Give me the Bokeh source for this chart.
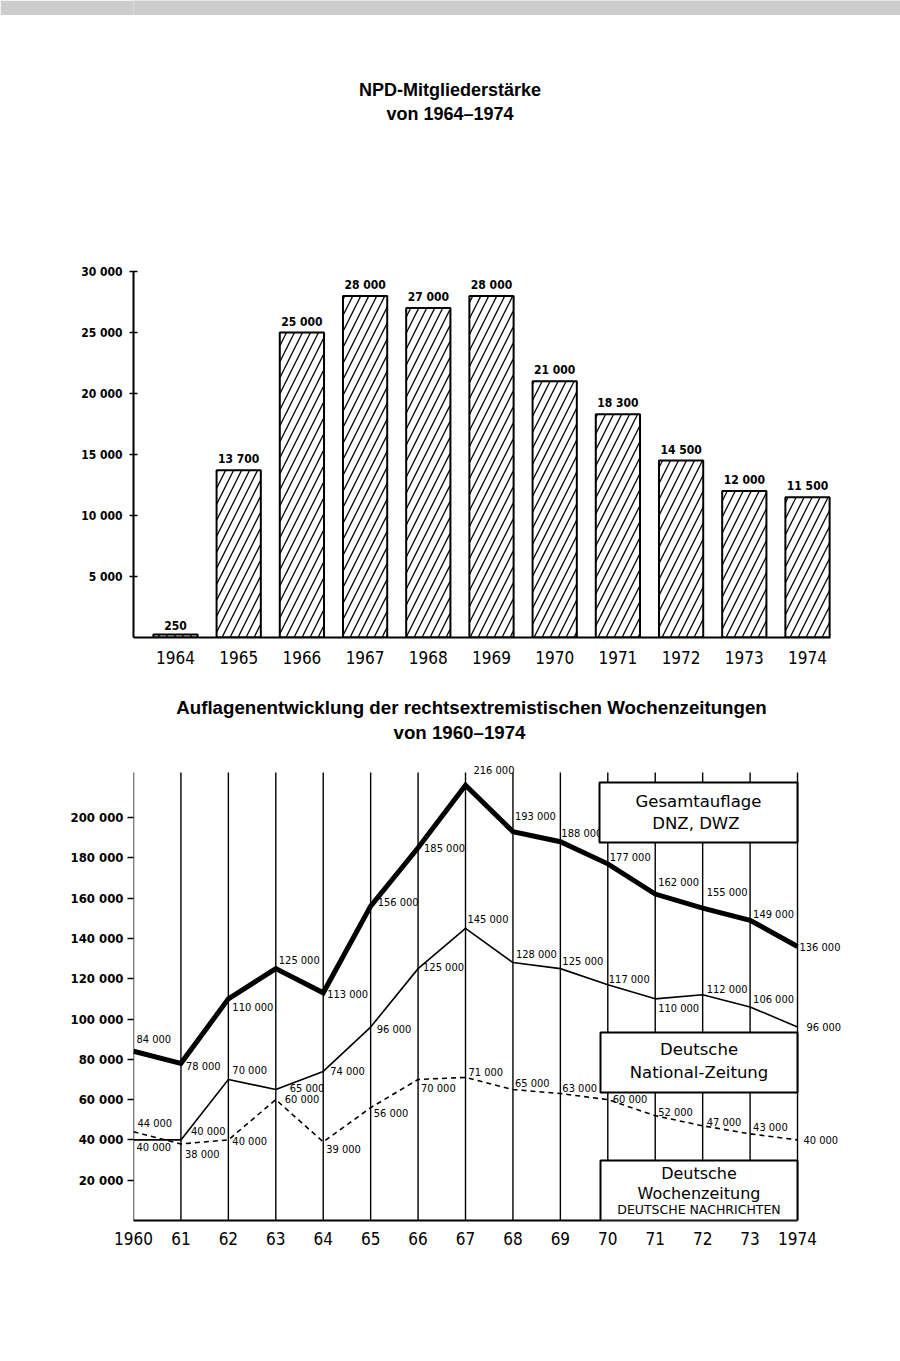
from bokeh.plotting import figure
from bokeh.models import Range1d, FixedTicker, Label, BoxAnnotation, ColumnDataSource
from bokeh.layouts import column
from bokeh.embed import file_html
from bokeh.resources import INLINE
from bokeh.core.properties import value

# ---------------- data ----------------
npd_years = [1964, 1965, 1966, 1967, 1968, 1969, 1970, 1971, 1972, 1973, 1974]
npd_members = [250, 13700, 25000, 28000, 27000, 28000, 21000, 18300, 14500, 12000, 11500]
npd_year_labels = ["1964", "1965", "1966", "1967", "1968", "1969", "1970", "1971", "1972", "1973", "1974"]
npd_tick_values = [5000, 10000, 15000, 20000, 25000, 30000]
npd_tick_labels = ["5 000", "10 000", "15 000", "20 000", "25 000", "30 000"]

paper_years = [1960, 1961, 1962, 1963, 1964, 1965, 1966, 1967, 1968, 1969, 1970, 1971, 1972, 1973, 1974]
paper_year_labels = ["1960", "61", "62", "63", "64", "65", "66", "67", "68", "69", "70", "71", "72", "73", "1974"]
gesamt = [84000, 78000, 110000, 125000, 113000, 156000, 185000, 216000, 193000, 188000, 177000, 162000, 155000, 149000, 136000]
dnz = [40000, 40000, 70000, 65000, 74000, 96000, 125000, 145000, 128000, 125000, 117000, 110000, 112000, 106000, 96000]
dwz = [44000, 38000, 40000, 60000, 39000, 56000, 70000, 71000, 65000, 63000, 60000, 52000, 47000, 43000, 40000]
paper_tick_values = [20000, 40000, 60000, 80000, 100000, 120000, 140000, 160000, 180000, 200000]
paper_tick_labels = ["20 000", "40 000", "60 000", "80 000", "100 000", "120 000", "140 000", "160 000", "180 000", "200 000"]

# label offsets (pixels) for value labels
gesamt_dx = [3, 5, 4, 3, 4, 7, 6, 8, 2, 1, 2, 3, 4, 3, 2]
gesamt_dy = [-12, 3, 9, -8, 2, -4, 1, -15, -15, -8, -6, -12, -16, -6, 1]
dnz_dx = [3, 10, 4, 14, 7, 6, 5, 2, 3, 2, 1, 3, 4, 3, 9]
dnz_dy = [8, -8, -9, -1, 0, 2, -1, -9, -8, -7, -5, 10, -5, -7, 0]
dwz_dx = [4, 4, 4, 9, 3, 3, 3, 3, 2, 2, 5, 3, 4, 3, 6]
dwz_dy = [-8, 11, 2, 0, 8, 6, 9, -5, -6, -5, 0, -3, -3, -6, 1]


def fmt(v):
    return f"{v:,}".replace(",", " ")


NUM_FONT = "DejaVu Sans Condensed, DejaVu Sans"
YEAR_FONT = "DejaVu Sans Condensed, DejaVu Sans"
BOX_FONT = "DejaVu Sans"
TITLE_FONT = "Liberation Sans"
W = 892
LEFT = 133                   # page x of the value axes
STRIP = 15                   # scanned page edge at the top

# ---------------- scan edge strip ----------------
p0 = figure(width=900, height=STRIP, output_backend="svg", toolbar_location=None,
            title=None, min_border=0, x_axis_type=None, y_axis_type=None)
p0.outline_line_color = None
p0.background_fill_color = "#cdcdcd"
p0.border_fill_color = "#cdcdcd"
p0.xgrid.visible = False
p0.ygrid.visible = False

# ---------------- top chart ----------------
H1 = 690 - STRIP
BASE1 = 637                  # page y of zero line
B1_BOTTOM = H1 + STRIP - BASE1
PX1 = 61.0 / 5000.0          # px per member
YEAR_PX1 = 63.2              # px per year
FRAME1_H = H1 - B1_BOTTOM
FRAME1_W = W - LEFT
X1_START = 1964 - (175 - LEFT) / YEAR_PX1
X1_END = X1_START + FRAME1_W / YEAR_PX1
Y1_END = FRAME1_H / PX1


def x1(px):
    return X1_START + (px - LEFT) / YEAR_PX1


def y1(py):
    return (BASE1 - py) / PX1


p1 = figure(width=W, height=H1, output_backend="svg", toolbar_location=None,
            x_range=Range1d(X1_START, X1_END), y_range=Range1d(0, Y1_END),
            min_border_left=LEFT, min_border_right=0, min_border_top=0,
            min_border_bottom=B1_BOTTOM, title=None)
p1.outline_line_color = None
p1.xgrid.visible = False
p1.ygrid.visible = False
p1.background_fill_color = "white"
p1.border_fill_color = "white"

src1 = ColumnDataSource(dict(x=npd_years, top=npd_members, lab=[fmt(v) for v in npd_members]))
p1.vbar(x="x", top="top", width=0.7, source=src1, fill_color="white",
        line_color="black", line_width=2, hatch_pattern="/", hatch_color="black",
        hatch_scale=16, hatch_weight=1.3)
p1.text(x="x", y="top", text="lab", source=src1, text_align="center",
        text_baseline="bottom", y_offset=-4, text_font=value(NUM_FONT),
        text_font_style="bold", text_font_size="12px", text_color="black")

ya = p1.yaxis[0]
ya.ticker = FixedTicker(ticks=npd_tick_values)
ya.major_label_overrides = {v: s for v, s in zip(npd_tick_values, npd_tick_labels)}
ya.bounds = (0, 30000)
ya.axis_line_width = 2
ya.major_tick_in = 4
ya.major_tick_out = 4
ya.major_tick_line_width = 1.5
ya.minor_tick_line_color = None
ya.major_label_standoff = 7
ya.major_label_text_font = NUM_FONT
ya.major_label_text_font_style = "bold"
ya.major_label_text_font_size = "12px"
ya.major_label_text_color = "black"

xa = p1.xaxis[0]
xa.ticker = FixedTicker(ticks=npd_years)
xa.major_label_overrides = {v: s for v, s in zip(npd_years, npd_year_labels)}
xa.bounds = (X1_START, 1974.36)
xa.axis_line_width = 2
xa.major_tick_line_color = None
xa.minor_tick_line_color = None
xa.major_label_standoff = 7
xa.major_label_text_font = YEAR_FONT
xa.major_label_text_font_size = "17px"
xa.major_label_text_color = "black"

for txt, py in [("NPD-Mitgliederstärke", 89), ("von 1964–1974", 113)]:
    p1.add_layout(Label(x=x1(449.5), y=y1(py), text=txt, text_align="center",
                        text_baseline="middle", text_font=TITLE_FONT,
                        text_font_style="bold", text_font_size="18px",
                        text_color="black"))

# ---------------- bottom chart ----------------
H2 = 663
B2_BOTTOM = 133
PX2 = 40.3 / 20000.0
YEAR_PX2 = 47.43
FRAME2_H = H2 - B2_BOTTOM
FRAME2_W = W - LEFT
X2_START = 1960
X2_END = X2_START + FRAME2_W / YEAR_PX2
Y2_END = FRAME2_H / PX2
TOP2 = 690
BASE2 = TOP2 + FRAME2_H


def x2(px):
    return X2_START + (px - LEFT) / YEAR_PX2


def y2(py):
    return (BASE2 - py) / PX2


p2 = figure(width=W, height=H2, output_backend="svg", toolbar_location=None,
            x_range=Range1d(X2_START, X2_END), y_range=Range1d(0, Y2_END),
            min_border_left=LEFT, min_border_right=0, min_border_top=0,
            min_border_bottom=B2_BOTTOM, title=None)
p2.outline_line_color = None
p2.xgrid.visible = False
p2.ygrid.visible = False
p2.background_fill_color = "white"
p2.border_fill_color = "white"

# vertical year lines
p2.segment(x0=paper_years, y0=[0] * len(paper_years), x1=paper_years,
           y1=[y2(772)] * len(paper_years), line_color="black", line_width=1.4)

p2.line(paper_years, dwz, line_color="black", line_width=1.6, line_dash="5 4")
p2.line(paper_years, dnz, line_color="black", line_width=1.6)
p2.line(paper_years, gesamt, line_color="black", line_width=5, line_join="miter")

for vals, dx, dy in [(gesamt, gesamt_dx, gesamt_dy), (dnz, dnz_dx, dnz_dy), (dwz, dwz_dx, dwz_dy)]:
    s = ColumnDataSource(dict(x=paper_years, y=vals, lab=[fmt(v) for v in vals], dx=dx, dy=dy))
    p2.text(x="x", y="y", text="lab", source=s, x_offset="dx", y_offset="dy",
            text_align="left", text_baseline="middle", text_font=value(NUM_FONT),
            text_font_size="11px", text_color="black")

ya2 = p2.yaxis[0]
ya2.ticker = FixedTicker(ticks=paper_tick_values)
ya2.major_label_overrides = {v: s for v, s in zip(paper_tick_values, paper_tick_labels)}
ya2.axis_line_color = None
ya2.major_tick_in = 0
ya2.major_tick_out = 6
ya2.major_tick_line_width = 1.5
ya2.minor_tick_line_color = None
ya2.major_label_standoff = 4
ya2.major_label_text_font = NUM_FONT
ya2.major_label_text_font_style = "bold"
ya2.major_label_text_font_size = "13px"
ya2.major_label_text_color = "black"

xa2 = p2.xaxis[0]
xa2.ticker = FixedTicker(ticks=paper_years)
xa2.major_label_overrides = {v: s for v, s in zip(paper_years, paper_year_labels)}
xa2.bounds = (1960, 1974)
xa2.axis_line_width = 2
xa2.major_tick_line_color = None
xa2.minor_tick_line_color = None
xa2.major_label_standoff = 5
xa2.major_label_text_font = YEAR_FONT
xa2.major_label_text_font_size = "17px"
xa2.major_label_text_color = "black"

for txt, px, py in [("Auflagenentwicklung der rechtsextremistischen Wochenzeitungen", 471, 707),
                    ("von 1960–1974", 459, 732)]:
    p2.add_layout(Label(x=x2(px), y=y2(py), text=txt, text_align="center",
                        text_baseline="middle", text_font=TITLE_FONT,
                        text_font_style="bold", text_font_size="18.7px",
                        text_color="black"))

# legend boxes
boxes = [
    (599, 797, 782, 842, [("Gesamtauflage", 801, "16.5px"), ("DNZ,  DWZ", 823, "16.5px")]),
    (600, 797, 1032, 1092, [("Deutsche", 1049, "16.5px"), ("National-Zeitung", 1072, "16.5px")]),
    (600, 797, 1160, 1220, [("Deutsche", 1173, "16px"), ("Wochenzeitung", 1193, "16px"),
                            ("DEUTSCHE NACHRICHTEN", 1209, "12.5px")]),
]
for l, r, t, b, texts in boxes:
    p2.add_layout(BoxAnnotation(left=x2(l), right=x2(r), top=y2(t), bottom=y2(b),
                                fill_color="white", fill_alpha=1, line_color="black",
                                line_width=2, line_alpha=1))
    for txt, py, fs in texts:
        p2.add_layout(Label(x=x2((l + r) / 2), y=y2(py), text=txt, text_align="center",
                            text_baseline="middle", text_font=BOX_FONT,
                            text_font_size=fs, text_color="black"))

layout = column(p0, p1, p2)
open("out.html", "w").write(file_html(layout, INLINE))
